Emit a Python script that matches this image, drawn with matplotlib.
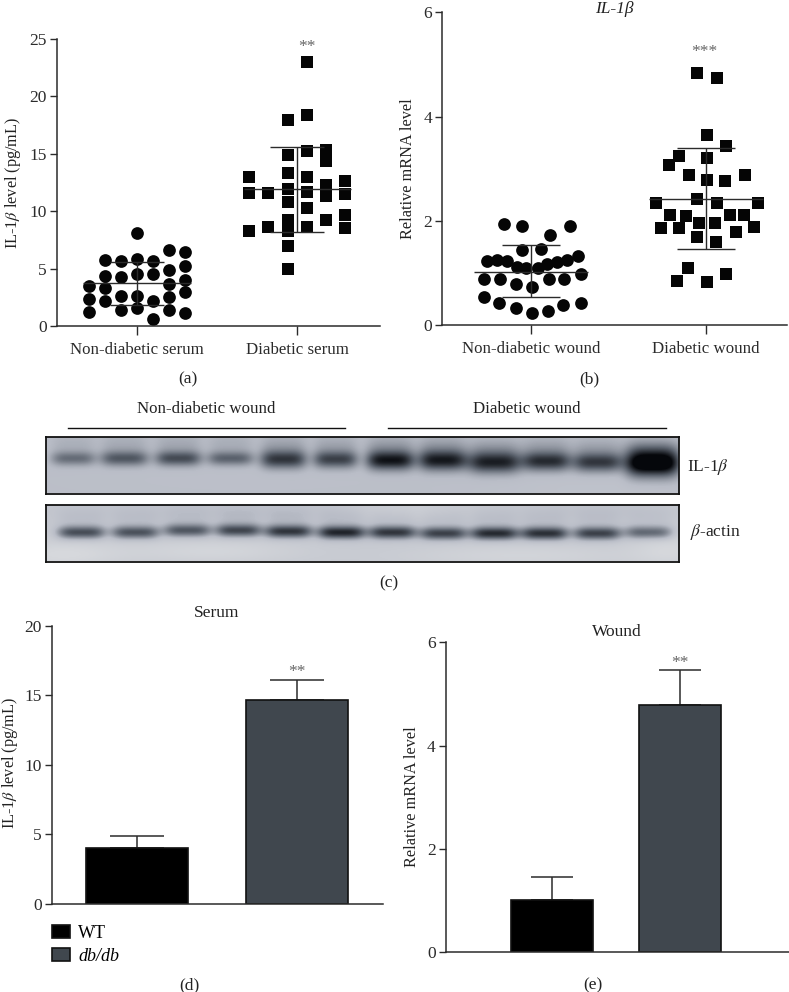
import matplotlib
matplotlib.use('Agg')
import matplotlib.pyplot as plt
import numpy as np
from matplotlib.colors import LinearSegmentedColormap

plt.rcParams['font.family'] = ['Liberation Serif', 'DejaVu Serif']
plt.rcParams['mathtext.fontset'] = 'stix'
plt.rcParams['font.size'] = 12

# panel (a), serum scatter: offset from the category centre, value
a_groups = ['Non-diabetic serum', 'Diabetic serum']
a1_x = [-0.3, -0.3, -0.3, -0.2, -0.2, -0.2, -0.2, -0.1, -0.1, -0.1, -0.1,
        0, 0, 0, 0, 0, 0.1, 0.1, 0.1, 0.1, 0.2, 0.2, 0.2, 0.2, 0.2,
        0.3, 0.3, 0.3, 0.3, 0.3]
a1_y = [3.5, 2.35, 1.25, 5.7, 4.35, 3.3, 2.15, 5.65, 4.3, 2.6, 1.35,
        8.05, 5.8, 4.5, 2.65, 1.6, 5.65, 4.55, 2.15, 0.65, 6.6, 4.85, 3.65, 2.5, 1.35,
        6.45, 5.25, 4.0, 2.95, 1.1]
a2_x = [-0.3, -0.3, -0.3, -0.18, -0.18, -0.06, -0.06, -0.06, -0.06, -0.06, -0.06, -0.06, -0.06, -0.06,
        0.06, 0.06, 0.06, 0.06, 0.06, 0.06, 0.06, 0.18, 0.18, 0.18, 0.18, 0.18,
        0.3, 0.3, 0.3, 0.3]
a2_y = [13.0, 11.6, 8.3, 11.6, 8.65, 17.9, 14.9, 13.3, 11.9, 10.8, 9.2, 8.25, 7.0, 5.0,
        23.0, 18.35, 15.25, 13.0, 11.65, 10.25, 8.65, 15.3, 14.35, 12.3, 11.3, 9.25,
        12.65, 11.5, 9.65, 8.55]
a_mean = [3.7, 11.9]
a_low = [1.8, 8.2]
a_high = [5.6, 15.6]

# panel (b), wound mRNA scatter
b_groups = ['Non-diabetic wound', 'Diabetic wound']
b1_x = [-0.156, -0.051, 0.109, 0.221, -0.051, 0.057, 0.269, -0.255, -0.196, -0.137, -0.084, -0.030,
        0.036, 0.088, 0.145, 0.204, -0.272, -0.179, -0.088, 0.004, 0.101, 0.190, 0.282,
        -0.272, -0.183, -0.086, 0.006, 0.095, 0.183, 0.284]
b1_y = [1.94, 1.90, 1.74, 1.91, 1.44, 1.46, 1.33, 1.23, 1.25, 1.23, 1.12, 1.09,
        1.09, 1.18, 1.21, 1.25, 0.89, 0.89, 0.79, 0.73, 0.88, 0.89, 0.98,
        0.54, 0.42, 0.34, 0.23, 0.27, 0.38, 0.43]
b2_x = [-0.051, 0.061, 0.002, 0.112, -0.158, 0.006, -0.213, -0.101, 0.223, 0.004, 0.109,
        -0.051, -0.288, 0.063, 0.297, -0.208, -0.116, 0.137, 0.215, -0.042, 0.048,
        -0.261, -0.158, 0.274, 0.170, -0.050, 0.057, -0.105, 0.112, -0.168, 0.006]
b2_y = [4.84, 4.74, 3.65, 3.44, 3.25, 3.21, 3.07, 2.88, 2.89, 2.78, 2.77,
        2.42, 2.35, 2.35, 2.34, 2.11, 2.10, 2.12, 2.12, 1.97, 1.97,
        1.87, 1.87, 1.88, 1.78, 1.69, 1.60, 1.09, 0.98, 0.84, 0.83]
b_mean = [1.03, 2.42]
b_low = [0.54, 1.46]
b_high = [1.53, 3.39]

# panel (c), blot lanes
blot_top_centers = [73, 124, 178, 230, 283, 335, 390, 442, 494, 546, 597, 652]
blot_top_strength = [.30, .38, .42, .34, .50, .46, .62, .60, .58, .54, .50, .85]
blot_top_width = [22, 24, 23, 23, 23, 22, 24, 24, 27, 24, 25, 27]
blot_top_y = [459, 459, 459, 459, 460, 460, 461, 461, 463, 462, 463, 464]
blot_top_h = [7, 7.5, 7.5, 7, 9, 8.5, 9.5, 10, 10.5, 9.5, 9.5, 13]
blot_bot_centers = [81, 135, 187, 238, 288, 341, 392, 443, 494, 544, 597, 648]
blot_bot_strength = [.50, .48, .46, .52, .58, .64, .58, .54, .62, .60, .54, .42]
blot_bot_width = [24, 24, 24, 23, 24, 24, 24, 24, 24, 24, 24, 24]
blot_bot_y = [533, 533, 531, 531, 532, 533, 533, 534, 534, 534, 534, 533]

# panels (d) and (e), bars
bar_labels = ['WT', 'db/db']
bar_colors = ['#000000', '#40474e']
d_values = [4.0, 14.68]
d_err = [0.86, 1.39]
e_values = [1.01, 4.79]
e_err = [0.44, 0.67]

W, H = 789, 992
fig = plt.figure(figsize=(W / 100, H / 100), dpi=100)
ink = '#2b2b2b'


def make_axes(left, right, top, bottom):
    ax = fig.add_axes([left / W, 1 - bottom / H, (right - left) / W, (bottom - top) / H])
    ax.spines['top'].set_visible(False)
    ax.spines['right'].set_visible(False)
    ax.spines['left'].set_linewidth(1.1)
    ax.spines['bottom'].set_linewidth(1.1)
    ax.spines['left'].set_color(ink)
    ax.spines['bottom'].set_color(ink)
    ax.tick_params(colors=ink, width=1.0, length=5, labelsize=12.5, pad=2.5)
    ax.patch.set_alpha(0)
    return ax


def put_text(x, y, s, **kw):
    kw.setdefault('ha', 'center')
    kw.setdefault('va', 'center')
    kw.setdefault('color', '#222222')
    fig.text(x / W, 1 - y / H, s, **kw)


def set_ylabel_px(ax, label, x, y, box):
    left, right, top, bottom = box
    ax.set_ylabel(label, fontsize=11.7, color='#222222', va='center')
    ax.yaxis.set_label_coords((x - left) / (right - left), (bottom - y) / (bottom - top))


def scatter_panel(box, xlim, ylim, yticks, groups, pts1, pts2, mean, low, high, caps):
    ax = make_axes(*box)
    ax.set_xlim(xlim)
    ax.set_ylim(ylim)
    ax.set_yticks(yticks)
    ax.set_xticks([0, 1])
    ax.set_xticklabels(groups, fontsize=12.2)
    ax.tick_params(axis='x', length=6.5, pad=5)
    ax.scatter(np.array(pts1[0]), pts1[1], marker='o', s=84, color='#050505', linewidths=0, clip_on=False, zorder=2)
    ax.scatter(1 + np.array(pts2[0]), pts2[1], marker='s', s=68, color='#050505', linewidths=0, clip_on=False, zorder=2)
    for i in range(2):
        ax.vlines(i, low[i], high[i], color=ink, lw=1.0, zorder=3)
        ax.hlines(mean[i], i - caps[0], i + caps[0], color=ink, lw=1.0, zorder=3)
        ax.hlines([low[i], high[i]], i - caps[1], i + caps[1], color=ink, lw=1.0, zorder=3)
    return ax


def bar_panel(box, xlim, ylim, yticks, values, err, width, capsize):
    ax = make_axes(*box)
    ax.set_xlim(xlim)
    ax.set_ylim(ylim)
    ax.set_yticks(yticks)
    ax.set_xticks([])
    bars = ax.bar([0, 1], values, width=width, color=bar_colors, edgecolor='#111111', linewidth=1.2, zorder=2)
    ax.errorbar([0, 1], values, yerr=[[0, 0], err], fmt='none', ecolor=ink, elinewidth=1.1,
                capsize=capsize, capthick=1.1, zorder=1)
    return ax, bars


def blot_image(left, right, top, bottom, bg, centers, strength, widths, ys, hs, smear, patches):
    xx, yy = np.meshgrid(np.arange(left, right), np.arange(top, bottom))
    img = np.full(xx.shape, bg, dtype=float)
    for px, py, sx, sy, amp in patches:
        img += amp * np.exp(-((xx - px) / sx) ** 2 - ((yy - py) / sy) ** 2)
    for c, s, w, y0, h in zip(centers, strength, widths, ys, hs):
        across = np.exp(-np.abs((xx - c) / w) ** 4)
        img -= s * across * np.exp(-((yy - y0) / h) ** 2)
        img -= smear * s * across * np.exp(-((yy - (y0 - 14)) / 11) ** 2)
    return img


# scatter panels
box_a = (57, 380, 38.7, 326)
ax_a = scatter_panel(box_a, (-0.499, 1.516), (0, 25), [0, 5, 10, 15, 20, 25], a_groups,
                     (a1_x, a1_y), (a2_x, a2_y), a_mean, a_low, a_high, (0.335, 0.168))
set_ylabel_px(ax_a, r'IL-1$\beta$ level (pg/mL)', 13, 183, box_a)

box_b = (442.3, 786.7, 12.3, 325.3)
ax_b = scatter_panel(box_b, (-0.508, 1.46), (0, 6), [0, 2, 4, 6], b_groups,
                     (b1_x, b1_y), (b2_x, b2_y), b_mean, b_low, b_high, (0.325, 0.166))
set_ylabel_px(ax_b, 'Relative mRNA level', 408, 169, box_b)

# blots
cmap = LinearSegmentedColormap.from_list('blot', ['#05070b', '#5c636e', '#b9bdc7', '#e6e7e8'])
top_box = (45.5, 678.5, 437, 493.5)
bot_box = (45.5, 678.5, 505, 561.5)
top_patches = [(600, 490, 120, 25, 0.03), (250, 480, 200, 20, 0.01)]
bot_patches = [(60, 555, 60, 14, 0.12), (210, 552, 90, 12, 0.1), (400, 510, 60, 12, 0.08),
               (520, 556, 120, 12, 0.09), (670, 550, 40, 18, 0.1), (240, 512, 200, 12, -0.05),
               (600, 510, 70, 10, -0.04)]
top_img = blot_image(46, 679, 437, 494, 0.68, blot_top_centers, blot_top_strength, blot_top_width,
                     blot_top_y, blot_top_h, 0.2, top_patches)
bot_img = blot_image(46, 679, 505, 562, 0.76, blot_bot_centers, blot_bot_strength, blot_bot_width,
                     blot_bot_y, [6.5] * 12, 0.12, bot_patches)
for box, img in ((top_box, top_img), (bot_box, bot_img)):
    left, right, top, bottom = box
    ax = fig.add_axes([left / W, 1 - bottom / H, (right - left) / W, (bottom - top) / H])
    ax.imshow(img, cmap=cmap, vmin=0, vmax=1, aspect='auto', interpolation='bilinear')
    ax.set_xticks([])
    ax.set_yticks([])
    for sp in ax.spines.values():
        sp.set_linewidth(1.3)
        sp.set_color('#111111')

fig.add_artist(plt.Line2D([68 / W, 345 / W], [1 - 428 / H] * 2, color='#111111', lw=1.0))
fig.add_artist(plt.Line2D([388 / W, 665.5 / W], [1 - 428 / H] * 2, color='#111111', lw=1.0))
put_text(206, 409, 'Non-diabetic wound', fontsize=12.2)
put_text(527, 409, 'Diabetic wound', fontsize=12.2)
put_text(687, 467, r'IL-1$\beta$', ha='left', fontsize=12.5)
put_text(690, 532, r'$\beta$-actin', ha='left', fontsize=12.5)

# bar panels
box_d = (52.3, 383, 625.7, 904)
ax_d, bars_d = bar_panel(box_d, (-0.529, 1.5375), (0, 20), [0, 5, 10, 15, 20], d_values, d_err, 0.64, 19.3)
set_ylabel_px(ax_d, r'IL-1$\beta$ level (pg/mL)', 9.5, 763, box_d)
leg = ax_d.legend(handles=list(bars_d), labels=bar_labels, loc='upper left',
                  bbox_to_anchor=(52 / W, 1 - 925 / H), bbox_transform=fig.transFigure,
                  frameon=False, borderpad=0, borderaxespad=0, handlelength=1.0, handleheight=0.72,
                  handletextpad=0.45, labelspacing=0.32, fontsize=13)
leg.get_texts()[1].set_style('italic')

box_e = (446, 789, 642.3, 952)
ax_e, bars_e = bar_panel(box_e, (-0.828, 1.85), (0, 6), [0, 2, 4, 6], e_values, e_err, 0.637, 15.4)
set_ylabel_px(ax_e, 'Relative mRNA level', 412, 797, box_e)

# titles, stars, panel letters
put_text(614, 9, 'IL-1β', style='italic', fontsize=12.5)
put_text(217, 613, 'Serum', fontsize=12.5)
put_text(616.7, 632, 'Wound', fontsize=12.5)
star_color = '#666666'
put_text(307, 47, '**', fontsize=12.5, color=star_color)
put_text(704.7, 52, '***', fontsize=12.5, color=star_color)
put_text(297, 672, '**', fontsize=12.5, color=star_color)
put_text(680, 663, '**', fontsize=12.5, color=star_color)
put_text(188, 379, '(a)', fontsize=12.5)
put_text(589, 379, '(b)', fontsize=12.5)
put_text(389, 583, '(c)', fontsize=12.5)
put_text(189, 985, '(d)', fontsize=12.5)
put_text(593, 985, '(e)', fontsize=12.5)

fig.savefig('out.png', dpi=100)
